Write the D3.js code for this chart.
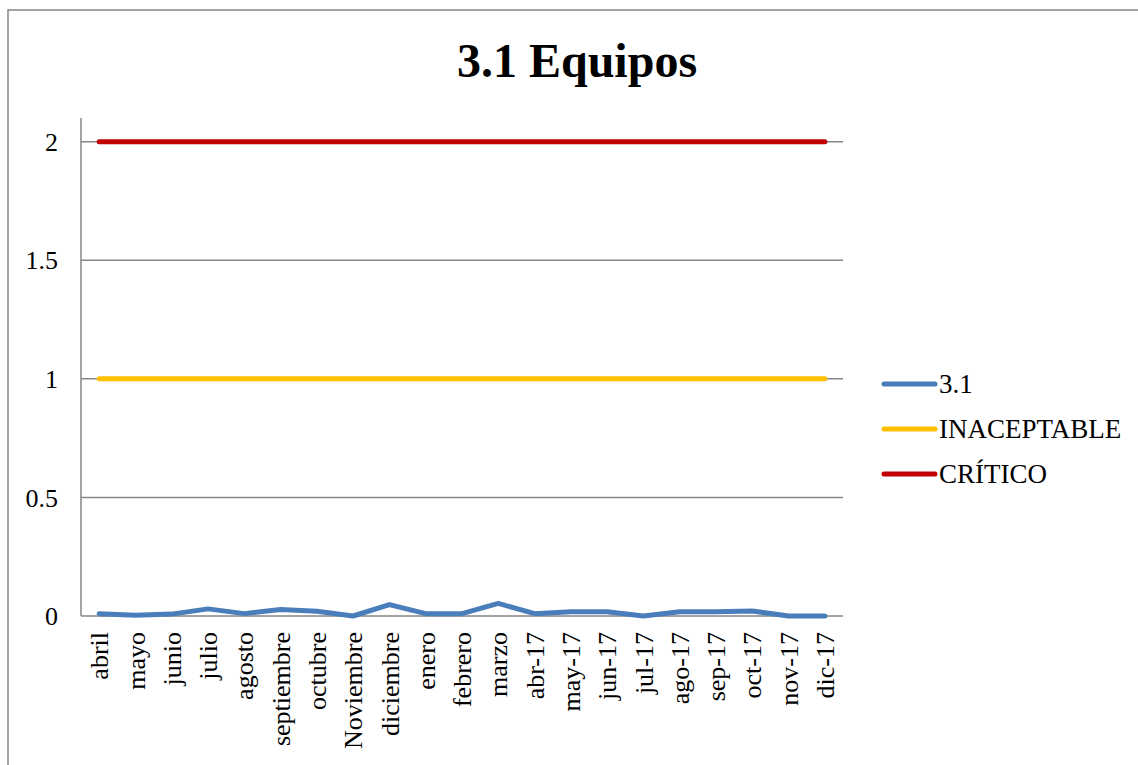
<!DOCTYPE html>
<html>
<head>
<meta charset="utf-8">
<script src="https://cdn.jsdelivr.net/npm/d3@7"></script>
<style>
  body { margin: 0; background: #fff; }
  svg text { font-family: "Liberation Serif", "Times New Roman", "DejaVu Serif", serif; fill: #000; }
</style>
</head>
<body>
<svg id="chart" width="1138" height="765"></svg>
<script>
// categories (x axis)
var months = ['abril', 'mayo', 'junio', 'julio', 'agosto', 'septiembre', 'octubre',
  'Noviembre', 'diciembre', 'enero', 'febrero', 'marzo', 'abr-17', 'may-17',
  'jun-17', 'jul-17', 'ago-17', 'sep-17', 'oct-17', 'nov-17', 'dic-17'];

// series values
var equipos = [0.01, 0.003, 0.008, 0.03, 0.01, 0.027, 0.02, 0, 0.048, 0.01, 0.01,
  0.053, 0.01, 0.018, 0.018, 0, 0.018, 0.018, 0.021, 0, 0];
var inaceptable = months.map(function () { return 1; });
var critico = months.map(function () { return 2; });

var yTicks = [0, 0.5, 1, 1.5, 2];

var series = [
  {name: '3.1', values: equipos, color: '#4a7ebb'},
  {name: 'INACEPTABLE', values: inaceptable, color: '#ffc000'},
  {name: 'CRÍTICO', values: critico, color: '#c00000'}
];

var svg = d3.select('#chart');

// outer frame (right/bottom edges fall outside the picture)
svg.append('rect')
  .attr('x', 8).attr('y', 10)
  .attr('width', 1140).attr('height', 800)
  .attr('fill', 'none')
  .attr('stroke', '#868686')
  .attr('stroke-width', 1.5);

svg.append('text')
  .attr('x', 577).attr('y', 77)
  .attr('text-anchor', 'middle')
  .style('font-size', '48px')
  .style('font-weight', 'bold')
  .text('3.1 Equipos');

var x = d3.scaleBand().domain(months).range([81, 843]).padding(0);
var y = d3.scaleLinear().domain([0, 2.1]).range([616, 118]);

// gridlines
svg.append('g').selectAll('line')
  .data(yTicks)
  .enter().append('line')
  .attr('x1', 81).attr('x2', 843)
  .attr('y1', function (d) { return y(d); })
  .attr('y2', function (d) { return y(d); })
  .attr('stroke', '#868686')
  .attr('stroke-width', 1.5);

// y axis line
svg.append('line')
  .attr('x1', 81).attr('x2', 81)
  .attr('y1', y(2.1)).attr('y2', y(0))
  .attr('stroke', '#868686')
  .attr('stroke-width', 1.5);

// y tick labels
svg.append('g').selectAll('text')
  .data(yTicks)
  .enter().append('text')
  .attr('x', 58)
  .attr('y', function (d) { return y(d); })
  .attr('dy', '0.35em')
  .attr('text-anchor', 'end')
  .style('font-size', '26px')
  .text(function (d) { return d; });

// x labels, rotated
svg.append('g').selectAll('text')
  .data(months)
  .enter().append('text')
  .attr('transform', function (d) {
    return 'translate(' + (x(d) + x.bandwidth() / 2) + ',632) rotate(-90)';
  })
  .attr('dy', '0.35em')
  .attr('text-anchor', 'end')
  .style('font-size', '26px')
  .text(function (d) { return d; });

var line = d3.line()
  .x(function (d, i) { return x(months[i]) + x.bandwidth() / 2; })
  .y(function (d) { return y(d); });

// thresholds first, measured series on top
svg.append('g').selectAll('path')
  .data(series.slice().reverse())
  .enter().append('path')
  .attr('d', function (s) { return line(s.values); })
  .attr('fill', 'none')
  .attr('stroke', function (s) { return s.color; })
  .attr('stroke-width', 5)
  .attr('stroke-linejoin', 'round')
  .attr('stroke-linecap', 'round');

// legend
var legend = svg.append('g').selectAll('g')
  .data(series)
  .enter().append('g')
  .attr('transform', function (d, i) { return 'translate(0,' + (384 + i * 45) + ')'; });

legend.append('line')
  .attr('x1', 884).attr('x2', 935)
  .attr('stroke', function (d) { return d.color; })
  .attr('stroke-width', 5)
  .attr('stroke-linecap', 'round');

legend.append('text')
  .attr('x', 939)
  .attr('dy', '0.35em')
  .style('font-size', '27px')
  .text(function (d) { return d.name; });
</script>
</body>
</html>
